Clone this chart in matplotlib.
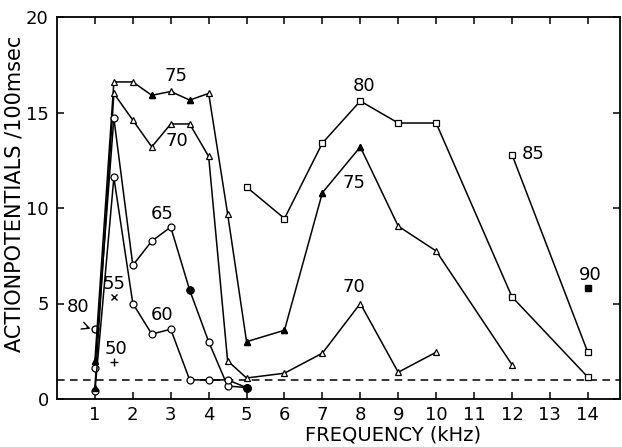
import matplotlib
matplotlib.use("Agg")
import matplotlib.pyplot as plt

plt.rcParams['font.family'] = ['DejaVu Sans']

# ---- data (kHz, action potentials / 100 msec) ----
s75_x = [1, 1.5, 2, 2.5, 3, 3.5, 4, 4.5, 5, 6, 7, 8, 9, 10, 12]
s75_y = [2.0, 16.6, 16.6, 15.9, 16.1, 15.65, 16.0, 9.7, 3.0, 3.6, 10.8, 13.2, 9.05, 7.75, 1.8]
s75_filled = [1, 2.5, 3.5, 5, 6, 7, 8]

s70_x = [1, 1.5, 2, 2.5, 3, 3.5, 4, 4.5, 5, 6, 7, 8, 9, 10]
s70_y = [0.6, 16.0, 14.6, 13.2, 14.4, 14.4, 12.7, 2.0, 1.1, 1.35, 2.4, 5.0, 1.4, 2.45]

s65_x = [1, 1.5, 2, 2.5, 3, 3.5, 4, 4.5, 5]
s65_y = [1.6, 14.7, 7.0, 8.27, 9.0, 5.7, 3.0, 0.68, 0.6]
s65_filled = [3.5, 5]

s60_x = [1, 1.5, 2, 2.5, 3, 3.5, 4, 4.5, 5]
s60_y = [0.4, 11.6, 5.0, 3.4, 3.65, 1.0, 1.0, 1.0, 0.6]
s60_filled = [5]

s80_x = [5, 6, 7, 8, 9, 10, 12, 14]
s80_y = [11.1, 9.45, 13.4, 15.6, 14.45, 14.45, 5.35, 1.15]

s85_x = [12, 14]
s85_y = [12.8, 2.45]

s90_x = [14]
s90_y = [5.8]

single80 = (1, 3.65)
single55 = (1.5, 5.35)
single50 = (1.5, 1.95)
threshold = 1.0

x_ticks = list(range(1, 15))
y_ticks = [0, 5, 10, 15, 20]

fig = plt.figure(figsize=(6.22, 4.47), dpi=100)
ax = fig.add_axes([57/622, 48/447, 563/622, 382/447])

ms = 5
def plot_series(xs, ys, marker, filled=()):
    ax.plot(xs, ys, color='black', lw=1.1, marker=marker, ms=ms,
            mfc='white', mec='black', mew=0.9, zorder=3)
    fx = [x for x in xs if x in filled]
    fy = [y for x, y in zip(xs, ys) if x in filled]
    if fx:
        ax.plot(fx, fy, ls='none', marker=marker, ms=ms, mfc='black', mec='black', zorder=4)

plot_series(s75_x, s75_y, '^', s75_filled)
plot_series(s70_x, s70_y, '^', [1])
plot_series(s65_x, s65_y, 'o', s65_filled)
plot_series(s60_x, s60_y, 'o', s60_filled)
plot_series(s80_x, s80_y, 's')
plot_series(s85_x, s85_y, 's')
ax.plot(s90_x, s90_y, ls='none', marker='s', ms=ms, mfc='black', mec='black')
ax.plot(*single80, ls='none', marker='o', ms=ms, mfc='white', mec='black')
ax.plot(*single55, ls='none', marker='x', ms=4, color='black')
ax.plot(*single50, ls='none', marker='+', ms=6, color='black')

ax.axhline(threshold, color='black', ls=(0, (5, 3.5)), lw=1.1)

fs = 13
ax.text(3.15, 16.9, '75', fontsize=fs, ha='center', va='center')
ax.text(3.15, 13.5, '70', fontsize=fs, ha='center', va='center')
ax.text(2.78, 9.7, '65', fontsize=fs, ha='center', va='center')
ax.text(2.78, 4.4, '60', fontsize=fs, ha='center', va='center')
ax.text(1.5, 6.0, '55', fontsize=fs, ha='center', va='center')
ax.text(1.55, 2.6, '50', fontsize=fs, ha='center', va='center')
ax.text(8.1, 16.4, '80', fontsize=fs, ha='center', va='center')
ax.text(7.83, 11.3, '75', fontsize=fs, ha='center', va='center')
ax.text(12.25, 12.85, '85', fontsize=fs, ha='left', va='center')
ax.text(7.84, 5.85, '70', fontsize=fs, ha='center', va='center')
ax.text(14.06, 6.5, '90', fontsize=fs, ha='center', va='center')
ax.annotate('80', xy=(single80[0] - 0.08, single80[1]), xytext=(0.55, 4.8),
            fontsize=fs, ha='center', va='center',
            arrowprops=dict(arrowstyle='->', color='black', lw=1,
                            connectionstyle='arc3,rad=0.4', shrinkA=8, shrinkB=1))

ax.set_xlim(0, 14.85)
ax.set_ylim(0, 20)
ax.set_xticks(x_ticks)
ax.set_yticks(y_ticks)
ax.tick_params(direction='in', length=5, width=1.1, top=True, right=True,
               labelsize=13)
ax.tick_params(axis='x', pad=5)
ax.tick_params(axis='y', pad=6, labelsize=13)
for s in ax.spines.values():
    s.set_linewidth(1.3)

fig.text(393/622, 1 - 435/447, 'FREQUENCY (kHz)', fontsize=14, ha='center', va='center')
fig.text(15/622, 1 - 194/447, 'ACTIONPOTENTIALS /100msec', fontsize=15, rotation=90,
         ha='center', va='center')

fig.savefig('out.png', dpi=100)
